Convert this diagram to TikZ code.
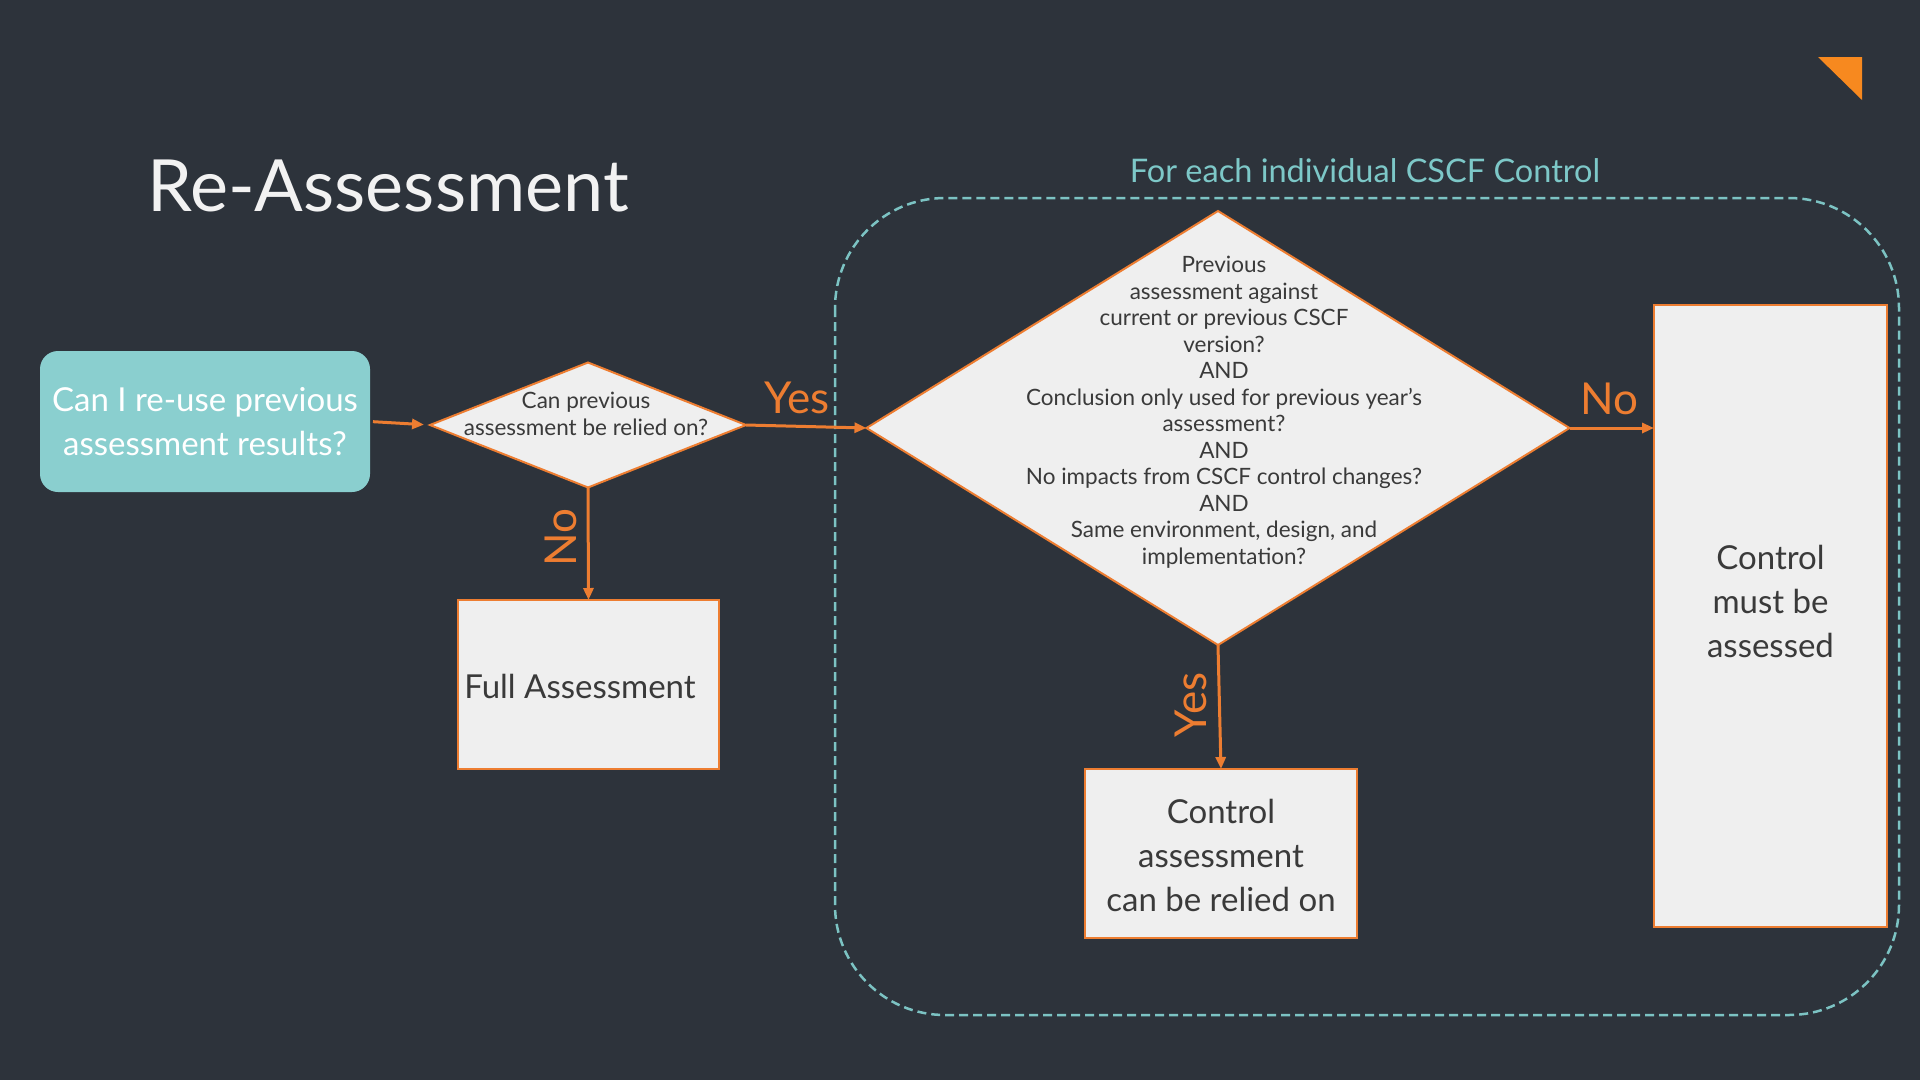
\documentclass[tikz,border=0pt]{standalone}
\usepackage{fontspec}
\setmainfont{Lato}
\usetikzlibrary{shapes.geometric,arrows.meta}
\definecolor{bg}{HTML}{2D333B}
\definecolor{orange1}{HTML}{ED7D31}
\definecolor{triorange}{HTML}{F7891F}
\definecolor{tealfill}{HTML}{8ACFCF}
\definecolor{tealline}{HTML}{7CC3C3}
\definecolor{tealtext}{HTML}{7DC8C8}
\definecolor{boxfill}{HTML}{EFEFEF}
\definecolor{boxtext}{HTML}{3A3A3A}
\definecolor{titletext}{HTML}{F2F2F2}
\begin{document}
\begin{tikzpicture}[x=1pt,y=-1pt,
  flow/.style={draw=orange1, line width=3pt, -{Triangle[length=12pt,width=10pt]}},
  box/.style={rectangle, draw=orange1, line width=2pt, fill=boxfill, inner sep=0pt, outer sep=0pt},
  dia/.style={diamond, draw=orange1, line width=2pt, fill=boxfill, inner sep=0pt, outer sep=0pt},
  boxtxt/.style={inner sep=0pt, align=center, text=boxtext, font=\fontsize{33}{44}\selectfont},
  diatxt/.style={inner sep=0pt, align=center, text=boxtext, font=\fontsize{22.5}{26.5}\selectfont},
  lbl/.style={inner sep=0pt, text=orange1, font=\fontsize{44}{50}\selectfont}
]
\fill[bg] (0,0) rectangle (1920,1080);
\useasboundingbox (0,0) rectangle (1920,1080);

% title
\node[anchor=base west, inner sep=0pt, text=titletext, font=\fontsize{72}{80}\selectfont] (title) at (147,211) {Re-Assessment};

% corner triangle
\fill[triorange] (1818,57) -- (1862,57) -- (1862,100) -- cycle;

% group frame
\draw[tealline, line width=2.5pt, dash pattern=on 9pt off 5pt, rounded corners=110pt] (835,198) rectangle (1899,1015);
\node[inner sep=0pt, text=tealtext, font=\fontsize{32.5}{40}\selectfont] (grp) at (1365,171) {For each individual CSCF Control};

% start box
\node[rectangle, rounded corners=18pt, fill=tealfill, minimum width=330pt, minimum height=141pt, inner sep=0pt, outer sep=0pt,
      text=white, align=center, font=\fontsize{33}{44}\selectfont] (start) at (205,421.5) {Can I re-use previous\\assessment results?};

% small diamond
\node[dia, minimum width=316pt, minimum height=125pt] (d1) at (588,425) {};
\node[diatxt] (d1t) at (586,414) {Can previous\\assessment be relied on?};

% big diamond
\node[dia, minimum width=703pt, minimum height=434pt] (d2) at (1218,428) {};
\node[diatxt] (d2t) at (1224,412) {Previous\\assessment against\\current or previous CSCF\\version?\\AND\\Conclusion only used for previous year’s\\assessment?\\AND\\No impacts from CSCF control changes?\\AND\\Same environment, design, and\\implementation?};

% result boxes
\node[box, minimum width=261pt, minimum height=169pt] (full) at (588.5,684.5) {};
\node[boxtxt] (fullt) at (580,686) {Full Assessment};

\node[box, minimum width=272pt, minimum height=169pt] (rel) at (1221,853.5) {};
\node[boxtxt] (relt) at (1221,855) {Control\\assessment\\can be relied on};

\node[box, minimum width=233pt, minimum height=622pt] (must) at (1770.5,616) {};
\node[boxtxt] (mustt) at (1770.5,601) {Control\\must be\\assessed};

% connectors
\draw[flow, shorten <=3pt, shorten >=6pt] (start.east) -- (d1.west);
\draw[flow] (d1.east) -- (d2.west);
\draw[flow] (d1.south) -- (full.north);
\draw[flow] (d2.east) -- (d2.east -| must.west);
\draw[flow] (d2.south) -- (rel.north);

% labels
\node[lbl] (y1) at (797,398) {Yes};
\node[lbl] (n1) at (1609,399) {No};
\node[lbl, rotate=90] (n2) at (561,538) {No};
\node[lbl, rotate=90] (y2) at (1191,705) {Yes};
\end{tikzpicture}
\end{document}
